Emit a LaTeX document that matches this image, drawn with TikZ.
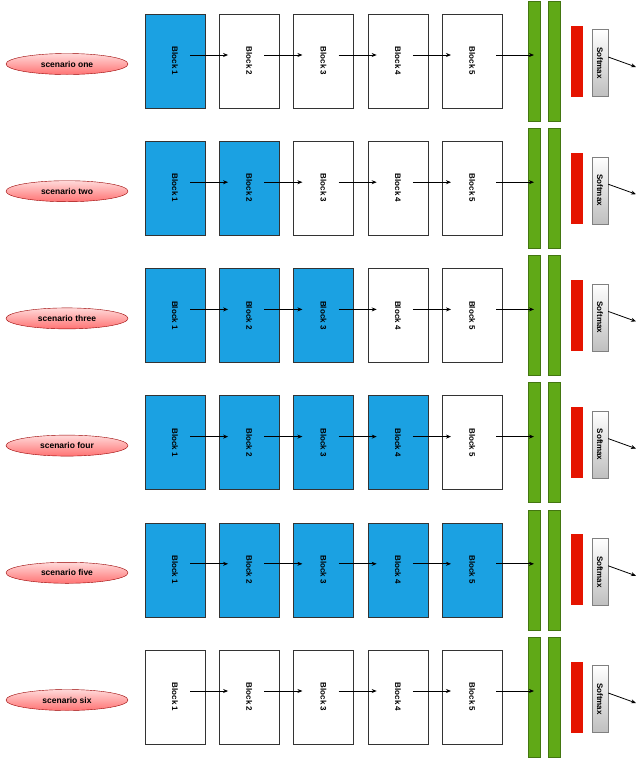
\documentclass[tikz,border=0pt]{standalone}
\usepackage{fontspec}
\setmainfont{Liberation Sans}
\usetikzlibrary{shapes.geometric,arrows.meta}
\definecolor{bblue}{HTML}{1BA1E2}
\definecolor{ggreen}{HTML}{60A917}
\definecolor{rred}{HTML}{E51400}
\tikzset{
 blk/.style={draw=black!80,minimum width=60pt,minimum height=94pt,inner sep=0pt},
 on/.style={blk,fill=bblue},
 off/.style={blk,fill=white},
 lbl/.style={rotate=-90,font=\bfseries\fontsize{8}{9}\selectfont},
 gbar/.style={draw=ggreen!70!black,fill=ggreen,minimum width=12pt,minimum height=120pt,inner sep=0pt},
 rbar/.style={fill=rred,minimum width=12pt,minimum height=71pt,inner sep=0pt},
 smx/.style={draw=black!50,top color=white,bottom color=black!25,minimum width=16pt,minimum height=67pt,inner sep=0pt},
 scen/.style={ellipse,draw=red!60!black,top color=red!15,bottom color=red!55,minimum width=122pt,minimum height=21pt,inner sep=0pt,font=\bfseries\fontsize{8.5}{10}\selectfont},
 arr/.style={-{Stealth[length=5pt,width=4pt]},thick}
}
\begin{document}
\begin{tikzpicture}[x=1pt,y=-1pt]
\useasboundingbox (0,0) rectangle (640,764);
\foreach \r/\name/\n in {0/one/1,1/two/2,2/three/3,3/four/4,4/five/5,5/six/0}{
 \pgfmathsetmacro{\yc}{61+\r*127.2}
 \node[scen] (s\r) at (67,\yc+3) {scenario \name};
 \foreach \i in {1,...,5}{
  \pgfmathsetmacro{\xc}{175+(\i-1)*74.3}
  \ifnum\i>\n \def\st{off}\else\def\st{on}\fi
  \node[\st] (b\r\i) at (\xc,\yc) {};
  \node[lbl] (t\r\i) at (b\r\i) {Block \i};
 }
 \node[gbar] (g\r a) at (534,\yc) {};
 \node[gbar] (g\r b) at (554,\yc) {};
 \node[rbar] (r\r) at (577,\yc) {};
 \node[smx] (m\r) at (600,\yc+2) {};
 \node[lbl] (mt\r) at (m\r) {Softmax};
 \coordinate (o\r) at (636,\yc+6);
 \foreach \i/\j in {1/2,2/3,3/4,4/5}{
  \draw[arr] ([xshift=15pt,yshift=6pt]b\r\i.center) -- ([xshift=9pt,yshift=6pt]b\r\j.west);
 }
 \draw[arr] ([xshift=-6pt,yshift=6pt]b\r5.east) -- ([yshift=6pt]g\r a.center);
 \draw[arr] ([yshift=6pt]m\r.east) -- (o\r);
}
\end{tikzpicture}
\end{document}
